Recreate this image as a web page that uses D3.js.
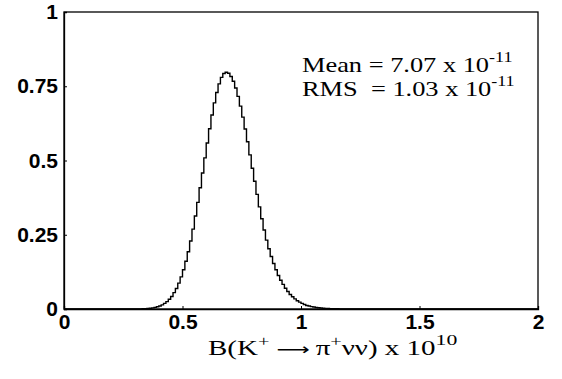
<!DOCTYPE html>
<html>
<head>
<meta charset="utf-8">
<script src="https://cdn.jsdelivr.net/npm/d3@7"></script>
<style>
  html, body { margin: 0; padding: 0; background: #fff; }
  svg { display: block; }
</style>
</head>
<body>
<svg id="chart" width="562" height="379"></svg>
<script>
// ---- data ----
const binStart = 0.33;   // left edge of first non-empty bin
const binWidth = 0.01;
const binValues = [
  0.0008, 0.0012, 0.0018, 0.0026, 0.0038, 0.0054, 0.0076, 0.010, 0.014, 0.019,
  0.025, 0.033, 0.042, 0.055, 0.069, 0.087, 0.108, 0.132, 0.161, 0.193,
  0.229, 0.269, 0.313, 0.359, 0.408, 0.458, 0.509, 0.559, 0.607, 0.653,
  0.694, 0.729, 0.758, 0.780, 0.793, 0.797, 0.794, 0.783, 0.767, 0.744,
  0.716, 0.683, 0.646, 0.606, 0.563, 0.519, 0.474, 0.430, 0.386, 0.344,
  0.304, 0.266, 0.232, 0.203, 0.177, 0.153, 0.132, 0.113, 0.097, 0.083,
  0.070, 0.059, 0.049, 0.041, 0.034, 0.028, 0.023, 0.019, 0.015, 0.012,
  0.010, 0.008, 0.0065, 0.005, 0.004, 0.0032, 0.0025, 0.002, 0.0016, 0.0013,
  0.001, 0.0008, 0.0006, 0.0005, 0.0004, 0.0003, 0.0003, 0.0002
];
const xTicks = [0, 0.5, 1, 1.5, 2];
const xTickLabels = ["0", "0.5", "1", "1.5", "2"];
const yTicks = [0, 0.25, 0.5, 0.75, 1];
const yTickLabels = ["0", "0.25", "0.5", "0.75", "1"];
const statLines = [
  { label: "Mean = 7.07 x 10", exp: "-11" },
  { label: "RMS  = 1.03 x 10", exp: "-11" }
];

(function () {
// ---- layout ----
const mLeft = 64, mRight = 538, mTop = 12, mBottom = 309;
const svg = d3.select("#chart");
const x = d3.scaleLinear().domain([0, 2]).range([mLeft, mRight]);
const y = d3.scaleLinear().domain([0, 1]).range([mBottom, mTop]);

// histogram as a stairs line
const pts = [[0, 0], [binStart, 0]];
binValues.forEach((v, i) => {
  const x0 = binStart + i * binWidth;
  pts.push([x0, v]);
  pts.push([x0 + binWidth, v]);
});
const endX = binStart + binValues.length * binWidth;
pts.push([endX, 0]);
pts.push([2, 0]);
svg.append("path")
  .attr("d", d3.line().x(d => x(d[0])).y(d => y(d[1]))(pts))
  .attr("fill", "none")
  .attr("stroke", "#000")
  .attr("stroke-width", 1.4);

// box
svg.append("rect")
  .attr("x", mLeft).attr("y", mTop)
  .attr("width", mRight - mLeft).attr("height", mBottom - mTop)
  .attr("fill", "none").attr("stroke", "#000").attr("stroke-width", 1.3);

// axes
const tickFont = "'Liberation Sans', Arial, sans-serif";
const yAxis = svg.append("g")
  .attr("transform", `translate(${mLeft},0)`)
  .call(d3.axisLeft(y).tickValues(yTicks).tickSize(-3).tickPadding(6)
        .tickFormat((d, i) => yTickLabels[i]));
const xAxis = svg.append("g")
  .attr("transform", `translate(0,${mBottom})`)
  .call(d3.axisBottom(x).tickValues(xTicks).tickSize(-3).tickPadding(5)
        .tickFormat((d, i) => xTickLabels[i]));
[yAxis, xAxis].forEach(g => {
  g.select(".domain").attr("stroke", "#000").attr("stroke-width", 1.3);
  g.selectAll(".tick line").attr("stroke", "#000");
  g.selectAll(".tick text")
    .attr("fill", "#000")
    .style("font-family", tickFont)
    .style("font-weight", "bold")
    .style("font-size", "21px");
});

// x-axis title (horizontally stretched serif like the reference)
const serif = "'Liberation Serif', 'Times New Roman', serif";
const xt = svg.append("text")
  .attr("transform", "translate(208,355) scale(1.45,1)")
  .attr("xml:space", "preserve")
  .style("white-space", "pre")
  .style("font-family", serif).style("font-size", "20px").attr("fill", "#000");
xt.append("tspan").text("B(K");
xt.append("tspan").text("+").attr("dy", -9).style("font-size", "14px");
xt.append("tspan").text(" ").attr("dy", 9);
xt.append("tspan").text("\u27f6").style("font-family", "'DejaVu Sans', sans-serif").style("font-size", "16px");
xt.append("tspan").text("\u2009\u03c0");
xt.append("tspan").text("+").attr("dy", -9).style("font-size", "14px");
xt.append("tspan").text("\u03bd\u03bd) x 10").attr("dy", 9);
xt.append("tspan").text("10").attr("dy", -10).style("font-size", "15px");

// statistics annotation
statLines.forEach((s, i) => {
  const t = svg.append("text")
    .attr("transform", `translate(302,${72 + i * 24}) scale(1.2,1)`)
    .attr("xml:space", "preserve")
    .style("white-space", "pre")
    .style("font-family", serif).style("font-size", "22px").attr("fill", "#000");
  t.append("tspan").text(s.label);
  t.append("tspan").text(s.exp).attr("dy", -10).style("font-size", "15px");
});
})();
</script>
</body>
</html>
